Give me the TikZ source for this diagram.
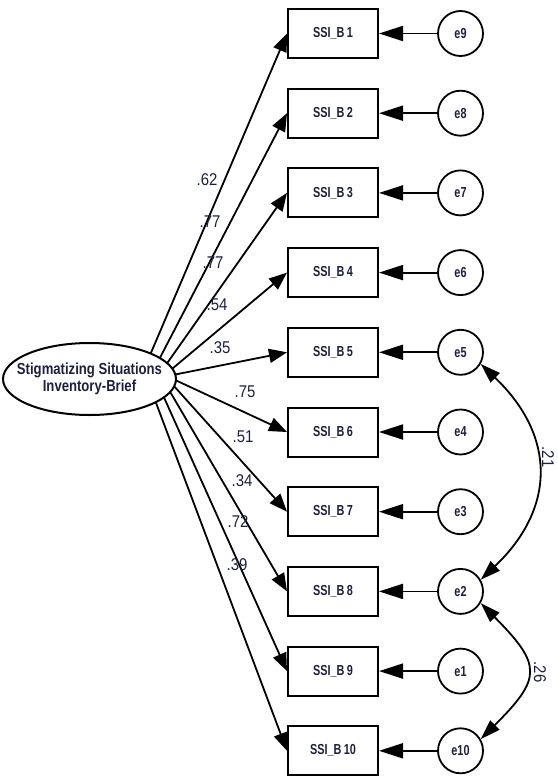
\documentclass[tikz,border=0pt]{standalone}
\usepackage{fontspec}
\setmainfont{Liberation Sans}
\newfontfamily\boxfont[FakeStretch=0.75]{Liberation Sans}
\newfontfamily\ellfont[FakeStretch=0.82]{Liberation Sans}
\newfontfamily\labfont[FakeStretch=0.88]{Liberation Sans}
\usetikzlibrary{arrows.meta,calc,shapes.geometric}
\definecolor{txt}{RGB}{28,32,64}
\tikzset{
  obsbox/.style={draw,line width=2pt,minimum width=90pt,minimum height=49pt,inner sep=0pt,
    font=\boxfont\bfseries\fontsize{14.5}{16}\selectfont,text=txt},
  errc/.style={draw,circle,line width=1.8pt,minimum size=45pt,inner sep=0pt,
    font=\boxfont\bfseries\fontsize{14.5}{16}\selectfont,text=txt},
  latent/.style={draw,ellipse,line width=2pt,minimum width=173pt,minimum height=72pt,inner sep=0pt},
  ltext/.style={align=center,inner sep=0pt,font=\ellfont\bfseries\fontsize{16}{17.5}\selectfont,text=txt},
  path/.style={line width=1.8pt,-{Triangle[length=18pt,width=14pt]}},
  epath/.style={line width=1.8pt,-{Triangle[length=24pt,width=15pt]}},
  cov/.style={line width=1.8pt,{Triangle[length=20pt,width=13pt]}-{Triangle[length=20pt,width=13pt]}},
  coef/.style={font=\labfont\fontsize{17}{18}\selectfont,text=txt,inner sep=0pt},
}
\begin{document}
\begin{tikzpicture}[x=1pt,y=-1pt]
\useasboundingbox (0,0) rectangle (557,778);
\node[latent] (ell) at (89.5,379) {};
\node[ltext] (ellt) at (ell.center) {Stigmatizing Situations\\Inventory-Brief};
\foreach \i/\e/\t in {1/9/45,2/8/35.6,3/7/26.1,4/6/16.7,5/5/7.2,6/4/-2.2,7/3/-11.7,8/2/-21.1,9/1/-30.6,10/10/-40}{
  \pgfmathsetmacro{\yy}{33.5+79.7*(\i-1)}
  \node[obsbox] (b\i) at (333,\yy) {SSI\_B\,\i};
  \node[errc] (e\e) at (460.5,\yy) {e\e};
  \coordinate (s\i) at ($(ell.center)+({86.5*cos(\t)},{-36*sin(\t)})$);
  \draw[path] (s\i) -- (b\i.west);
  \draw[epath] (e\e.west) -- (b\i.east);
}
\node[coef] (l1) at (207,180) {.62};
\node[coef] (l2) at (210,222) {.77};
\node[coef] (l3) at (213,263) {.77};
\node[coef] (l4) at (217,305) {.54};
\node[coef] (l5) at (220,348) {.35};
\node[coef] (l6) at (245,392) {.75};
\node[coef] (l7) at (243,437) {.51};
\node[coef] (l8) at (242,481) {.34};
\node[coef] (l9) at (238,522) {.72};
\node[coef] (l10) at (237,565) {.39};
\draw[cov] (e5.-30) .. controls (556,436) and (556,508) .. (e2.30);
\draw[cov] (e2.-30) .. controls (542,665) and (542,678) .. (e10.30);
\node[coef,rotate=-90] (c1) at (548,457) {.21};
\node[coef,rotate=-90] (c2) at (540,672) {.26};
\end{tikzpicture}
\end{document}
